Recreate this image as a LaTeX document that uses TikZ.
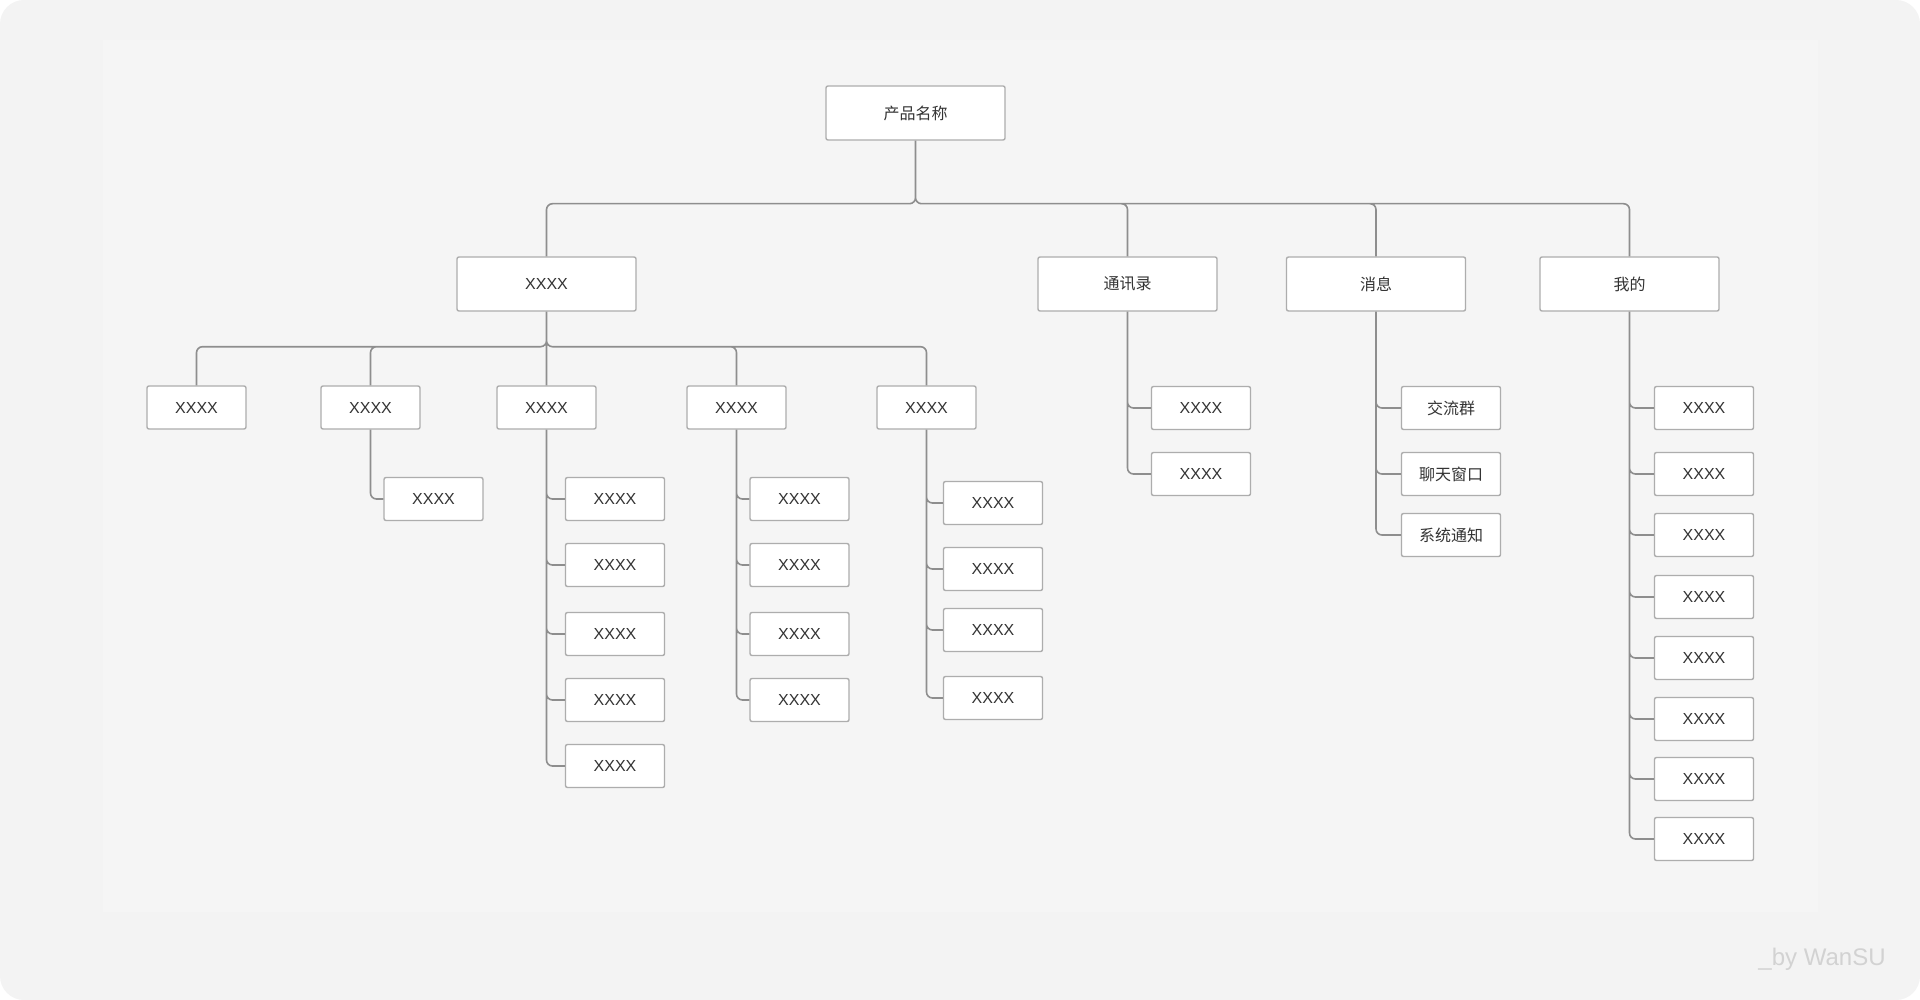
\documentclass[tikz,border=0pt]{standalone}
\usepackage{fontspec}
\setmainfont{Liberation Sans}
\newfontfamily\cjk{Noto Sans CJK SC}
\usetikzlibrary{positioning}
\definecolor{pageout}{HTML}{F3F3F3}
\definecolor{pagein}{HTML}{F5F5F5}
\definecolor{boxline}{HTML}{ADADAD}
\definecolor{linkline}{HTML}{8E8E8E}
\definecolor{boxtext}{HTML}{333333}
\definecolor{marktext}{HTML}{D2D2D2}

\begin{document}
\begin{tikzpicture}[x=0.5pt, y=-0.5pt,
  box/.style={draw=boxline, fill=white, line width=0.7pt, rounded corners=1pt, inner sep=0pt,
    minimum width=49.5pt, minimum height=21.5pt, text=boxtext, font=\fontsize{8}{10}\selectfont},
  bigbox/.style={box, minimum width=89.5pt, minimum height=27pt},
  link/.style={draw=linkline, line width=0.8pt, rounded corners=3pt}]

\useasboundingbox (0,0) rectangle (1920,1000);
\fill[white] (0,0) rectangle (1920,1000);
\fill[pageout, rounded corners=12pt] (0,0) rectangle (1920,1000);
\fill[pagein] (103,40) rectangle (1818,912);

\node[bigbox] (n0) at (915.5,113) {\cjk 产品名称};

\node[bigbox] (n1) at (546.5,284) {XXXX};
\node[bigbox] (n2) at (1127.5,284) {\cjk 通讯录};
\node[bigbox] (n3) at (1376,284) {\cjk 消息};
\node[bigbox] (n4) at (1629.5,284) {\cjk 我的};

\node[box] (n11) at (196.5,407.5) {XXXX};
\node[box] (n12) at (370.5,407.5) {XXXX};
\node[box] (n13) at (546.5,407.5) {XXXX};
\node[box] (n14) at (736.5,407.5) {XXXX};
\node[box] (n15) at (926.5,407.5) {XXXX};

\node[box] (n121) at (433.5,499) {XXXX};

\node[box] (n131) at (615,499) {XXXX};
\node[box] (n132) at (615,565) {XXXX};
\node[box] (n133) at (615,634) {XXXX};
\node[box] (n134) at (615,700) {XXXX};
\node[box] (n135) at (615,766) {XXXX};

\node[box] (n141) at (799.5,499) {XXXX};
\node[box] (n142) at (799.5,565) {XXXX};
\node[box] (n143) at (799.5,634) {XXXX};
\node[box] (n144) at (799.5,700) {XXXX};

\node[box] (n151) at (993,503) {XXXX};
\node[box] (n152) at (993,569) {XXXX};
\node[box] (n153) at (993,630) {XXXX};
\node[box] (n154) at (993,698) {XXXX};

\node[box] (n21) at (1201,408) {XXXX};
\node[box] (n22) at (1201,474) {XXXX};

\node[box] (n31) at (1451,408) {\cjk 交流群};
\node[box] (n32) at (1451,474) {\cjk 聊天窗口};
\node[box] (n33) at (1451,535) {\cjk 系统通知};

\node[box] (n41) at (1704,408) {XXXX};
\node[box] (n42) at (1704,474) {XXXX};
\node[box] (n43) at (1704,535) {XXXX};
\node[box] (n44) at (1704,597) {XXXX};
\node[box] (n45) at (1704,658) {XXXX};
\node[box] (n46) at (1704,719) {XXXX};
\node[box] (n47) at (1704,779) {XXXX};
\node[box] (n48) at (1704,839) {XXXX};

\node[font=\fontsize{12}{14}\selectfont, text=marktext, anchor=base] (mark) at (1822,965) {\_by WanSU};

\draw[link]
(n0.south) -- ++(0,63) -| (n1.north)
(n0.south) -- ++(0,63) -| (n2.north)
(n0.south) -- ++(0,63) -| (n3.north)
(n0.south) -- ++(0,63) -| (n4.north)
(n1.south) -- ++(0,35) -| (n11.north)
(n1.south) -- ++(0,35) -| (n12.north)
(n1.south) -- (n13.north)
(n1.south) -- ++(0,35) -| (n14.north)
(n1.south) -- ++(0,35) -| (n15.north)
(n12.south) |- (n121.west)
(n13.south) |- (n131.west)
(n13.south) |- (n132.west)
(n13.south) |- (n133.west)
(n13.south) |- (n134.west)
(n13.south) |- (n135.west)
(n14.south) |- (n141.west)
(n14.south) |- (n142.west)
(n14.south) |- (n143.west)
(n14.south) |- (n144.west)
(n15.south) |- (n151.west)
(n15.south) |- (n152.west)
(n15.south) |- (n153.west)
(n15.south) |- (n154.west)
(n2.south) |- (n21.west)
(n2.south) |- (n22.west)
(n3.south) |- (n31.west)
(n3.south) |- (n32.west)
(n3.south) |- (n33.west)
(n4.south) |- (n41.west)
(n4.south) |- (n42.west)
(n4.south) |- (n43.west)
(n4.south) |- (n44.west)
(n4.south) |- (n45.west)
(n4.south) |- (n46.west)
(n4.south) |- (n47.west)
(n4.south) |- (n48.west);
\end{tikzpicture}
\end{document}
